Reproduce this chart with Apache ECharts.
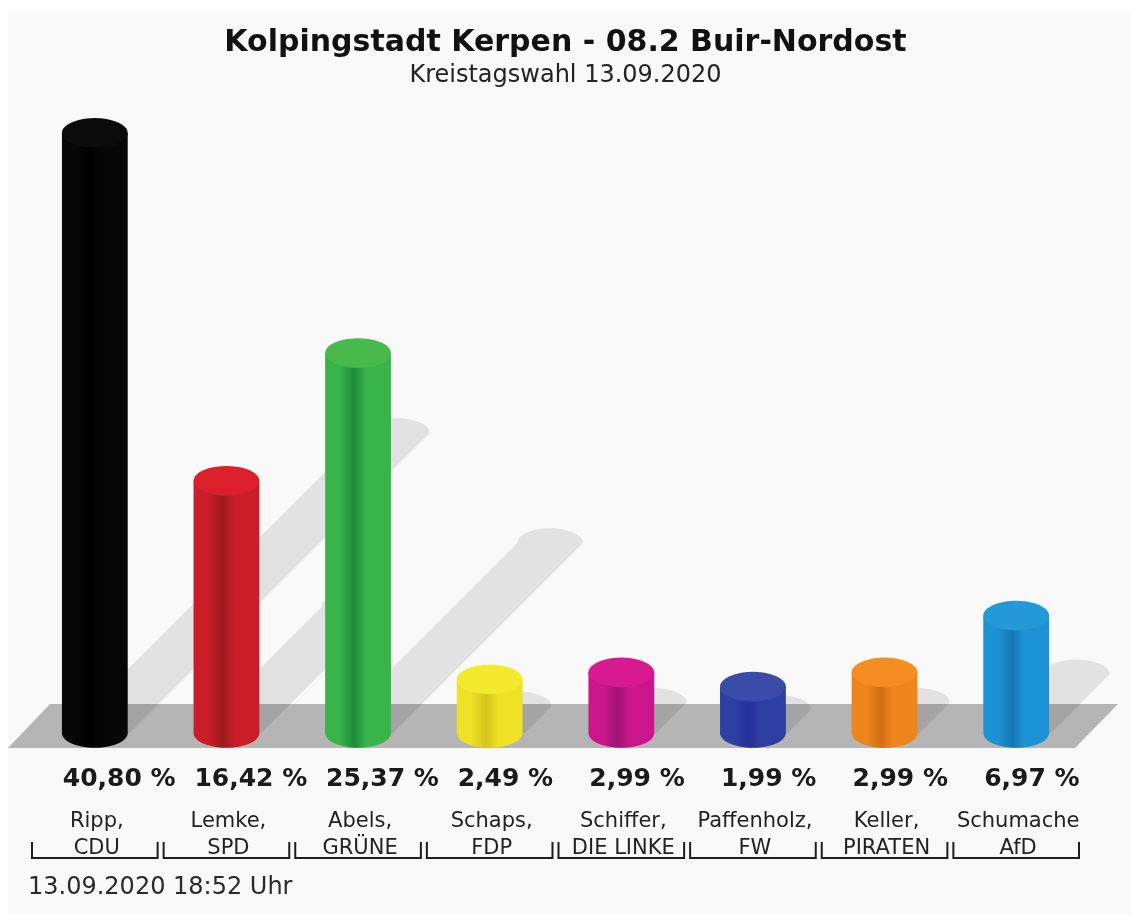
<!DOCTYPE html>
<html>
<head>
<meta charset="utf-8">
<script src="https://cdn.jsdelivr.net/npm/echarts@6/dist/echarts.min.js"></script>
<style>
  html, body { margin: 0; padding: 0; background: #ffffff; }
  #main { width: 1131px; height: 914px; }
</style>
</head>
<body>
<div id="main"></div>
<script>
// Wahldaten
var candidates = ['Ripp,', 'Lemke,', 'Abels,', 'Schaps,', 'Schiffer,', 'Paffenholz,', 'Keller,', 'Schumache'];
var parties = ['CDU', 'SPD', 'GRÜNE', 'FDP', 'DIE LINKE', 'FW', 'PIRATEN', 'AfD'];
var values = [40.80, 16.42, 25.37, 2.49, 2.99, 1.99, 2.99, 6.97];

// Farben (Körper, Schattenstreifen, Deckel)
var bodyColors = ['#060606', '#c91e2a', '#38b449', '#efe126', '#cb168b', '#2e3fa3', '#ef851d', '#1c92d4'];
var darkColors = ['#000000', '#9b1a20', '#1e8a3b', '#d3c41c', '#9f1473', '#22309a', '#d26f14', '#1576b5'];
var capColors = ['#0b0b0b', '#dd1f2c', '#48ba4c', '#f4ea2d', '#d81a91', '#3a4ba8', '#f48d22', '#2499d7'];

var BASE = -1.26; // Sockel der Zylinder

var chart = echarts.init(document.getElementById('main'));

function ellipsePts(cx, cy, rx, ry, a0, a1, n) {
  var pts = [];
  for (var k = 0; k <= n; k++) {
    var a = a0 + (a1 - a0) * k / n;
    pts.push([cx + rx * Math.cos(a), cy + ry * Math.sin(a)]);
  }
  return pts;
}

// Boden
function renderFloor(params, api) {
  var cs = params.coordSys;
  var yb = api.coord([0, BASE])[1];
  return {
    type: 'polygon',
    shape: { points: [
      [cs.x - 21, yb + 15], [cs.x + 21, yb - 29],
      [cs.x + cs.width + 36, yb - 29], [cs.x + cs.width - 7, yb + 15]
    ] },
    style: { fill: '#b5b5b5' }
  };
}

// Schatten
function renderShadow(params, api) {
  var i = api.value(0);
  var top = api.coord([i, api.value(1)]);
  var bot = api.coord([i, BASE]);
  var w = api.size([1, 0])[0] * 0.5;
  var rx = w / 2, ry = rx * 0.45;
  var h = bot[1] - top[1];
  var bx = bot[0] + 2, by = bot[1];
  var tx = bx + h * 0.5, ty = by - h * 0.5;
  var pts = [[bx - rx, by], [tx - rx, ty]];
  pts = pts.concat(ellipsePts(tx, ty, rx, ry, Math.PI, 2 * Math.PI, 24));
  pts.push([bx + rx, by]);
  return {
    type: 'polygon',
    shape: { points: pts },
    style: { fill: 'rgba(0,0,0,0.09)' }
  };
}

// Zylinder
function renderBar(params, api) {
  var i = api.value(0);
  var top = api.coord([i, api.value(1)]);
  var bot = api.coord([i, BASE]);
  var w = api.size([1, 0])[0] * 0.5;
  var rx = w / 2, ry = rx * 0.45;
  var cx = bot[0];
  var body = [[cx - rx, top[1]], [cx - rx, bot[1]]];
  body = body.concat(ellipsePts(cx, bot[1], rx, ry, Math.PI, 0, 30));
  body.push([cx + rx, top[1]]);
  var grad = new echarts.graphic.LinearGradient(0, 0, 1, 0, [
    { offset: 0, color: bodyColors[i] },
    { offset: 0.22, color: bodyColors[i] },
    { offset: 0.45, color: darkColors[i] },
    { offset: 0.62, color: bodyColors[i] },
    { offset: 1, color: bodyColors[i] }
  ]);
  return {
    type: 'group',
    children: [
      { type: 'polygon', shape: { points: body }, style: { fill: grad } },
      { type: 'polygon', shape: { points: ellipsePts(cx, top[1], rx, ry, 0, 2 * Math.PI, 40) }, style: { fill: capColors[i] } }
    ]
  };
}

// Beschriftung unter den Säulen
function renderLabels(params, api) {
  var i = api.value(0);
  var v = api.value(1);
  var bot = api.coord([i, BASE]);
  var cx = bot[0], yb = bot[1];
  var half = api.size([1, 0])[0] / 2 - 3;
  return {
    type: 'group',
    children: [
      { type: 'text', style: { text: v.toFixed(2).replace('.', ',') + ' %', x: cx - 32, y: yb + 46,
        textAlign: 'left', textVerticalAlign: 'middle', fill: '#1a1a1a',
        font: 'bold 25px "DejaVu Sans"' } },
      { type: 'text', style: { text: candidates[i], x: cx + 2, y: yb + 89,
        textAlign: 'center', textVerticalAlign: 'middle', fill: '#222',
        font: '21px "DejaVu Sans"' } },
      { type: 'text', style: { text: parties[i], x: cx + 2, y: yb + 116,
        textAlign: 'center', textVerticalAlign: 'middle', fill: '#222',
        font: '21px "DejaVu Sans"' } },
      { type: 'polyline', shape: { points: [
        [cx - half, yb + 109], [cx - half, yb + 125], [cx + half, yb + 125], [cx + half, yb + 109]
      ] }, style: { stroke: '#1e1e1e', lineWidth: 2, fill: null } }
    ]
  };
}

var seriesData = values.map(function(v, i) { return [i, v]; });

var option = {
  backgroundColor: '#ffffff',
  animation: false,
  title: {
    text: 'Kolpingstadt Kerpen - 08.2 Buir-Nordost',
    subtext: 'Kreistagswahl 13.09.2020',
    left: 'center',
    top: 20,
    itemGap: 0,
    textStyle: { fontFamily: 'DejaVu Sans', fontWeight: 'bold', fontSize: 30, color: '#111', lineHeight: 36 },
    subtextStyle: { fontFamily: 'DejaVu Sans', fontSize: 24, color: '#222', lineHeight: 30 }
  },
  graphic: [
    { type: 'rect', left: 8, top: 13, z: -10, shape: { width: 1123, height: 901 }, style: { fill: '#f9f9f9' } },
    { type: 'text', left: 28, top: 876, style: { text: '13.09.2020 18:52 Uhr', fill: '#2a2a2a', font: '24px "DejaVu Sans"' } }
  ],
  grid: { left: 29, right: 49, top: 73, bottom: 181 },
  xAxis: { type: 'category', data: candidates, show: false },
  yAxis: { type: 'value', min: BASE, max: 45, show: false },
  series: [
    { type: 'custom', name: 'floor', data: [[0, 0]], renderItem: renderFloor, z: 1, silent: true, clip: false },
    { type: 'custom', name: 'shadow', data: seriesData, renderItem: renderShadow, z: 2, silent: true, clip: false },
    { type: 'custom', name: 'bars', data: seriesData, renderItem: renderBar, z: 3, clip: false },
    { type: 'custom', name: 'labels', data: seriesData, renderItem: renderLabels, z: 4, silent: true, clip: false }
  ]
};
chart.setOption(option);
</script>
</body>
</html>
